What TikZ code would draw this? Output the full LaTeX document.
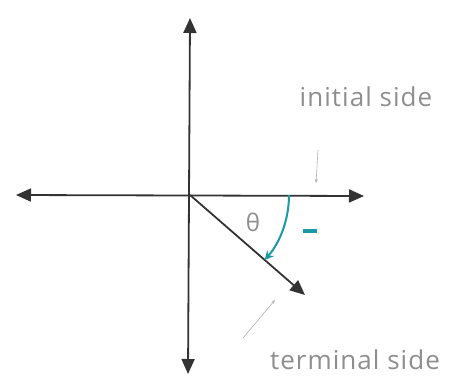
\documentclass[tikz,border=0pt]{standalone}
\usepackage{fontspec}
\setmainfont{Open Sans}
\usetikzlibrary{arrows.meta}
\definecolor{axisgray}{HTML}{333333}
\definecolor{labelgray}{HTML}{8E8E8E}
\definecolor{teal}{HTML}{1B9AA6}
\begin{document}
\begin{tikzpicture}[x=1pt,y=-1pt,
  axis/.style={draw=axisgray,line width=1.8pt,{Triangle[length=15pt,width=13pt]}-{Triangle[length=15pt,width=13pt]}},
  ray/.style={draw=axisgray,line width=1.8pt,-{Triangle[length=15pt,width=13pt]}},
  pointer/.style={draw=labelgray!70,line width=0.6pt,-{Stealth[length=4pt,width=3pt]}},
  lbl/.style={text=labelgray,font=\addfontfeatures{LetterSpace=4}\fontsize{26}{30}\selectfont,inner sep=0pt,anchor=base}]
\useasboundingbox (0,0) rectangle (452,378);
\coordinate (O) at (190,195);
\coordinate (L) at (16,195);
\coordinate (R) at (364,196);
\coordinate (T) at (190,18);
\coordinate (B) at (188,374);
\coordinate (E) at (305,295);
\draw[axis] (L) -- (R);
\draw[axis] (T) -- (B);
\draw[ray] (O) -- (E);
\draw[teal,line width=2pt,-{Stealth[length=9pt,width=9pt]}] (O) ++(0:99) arc[start angle=0,end angle=41,radius=99];
\node[text=labelgray,font=\fontsize{24}{26}\selectfont,inner sep=0pt] (th) at (253,222) {θ};
\node[text=teal,inner sep=0pt] (minus) at (310,231) {\rule{14pt}{3.5pt}};
\node[lbl] (init) at (366,106) {initial side};
\node[lbl] (term) at (355,369) {terminal side};
\coordinate (ip) at (318,150);
\coordinate (iq) at (316,183);
\draw[pointer] (ip) -- (iq);
\coordinate (tp) at (243,338);
\coordinate (tq) at (275,300);
\draw[pointer] (tp) -- (tq);
\end{tikzpicture}
\end{document}
